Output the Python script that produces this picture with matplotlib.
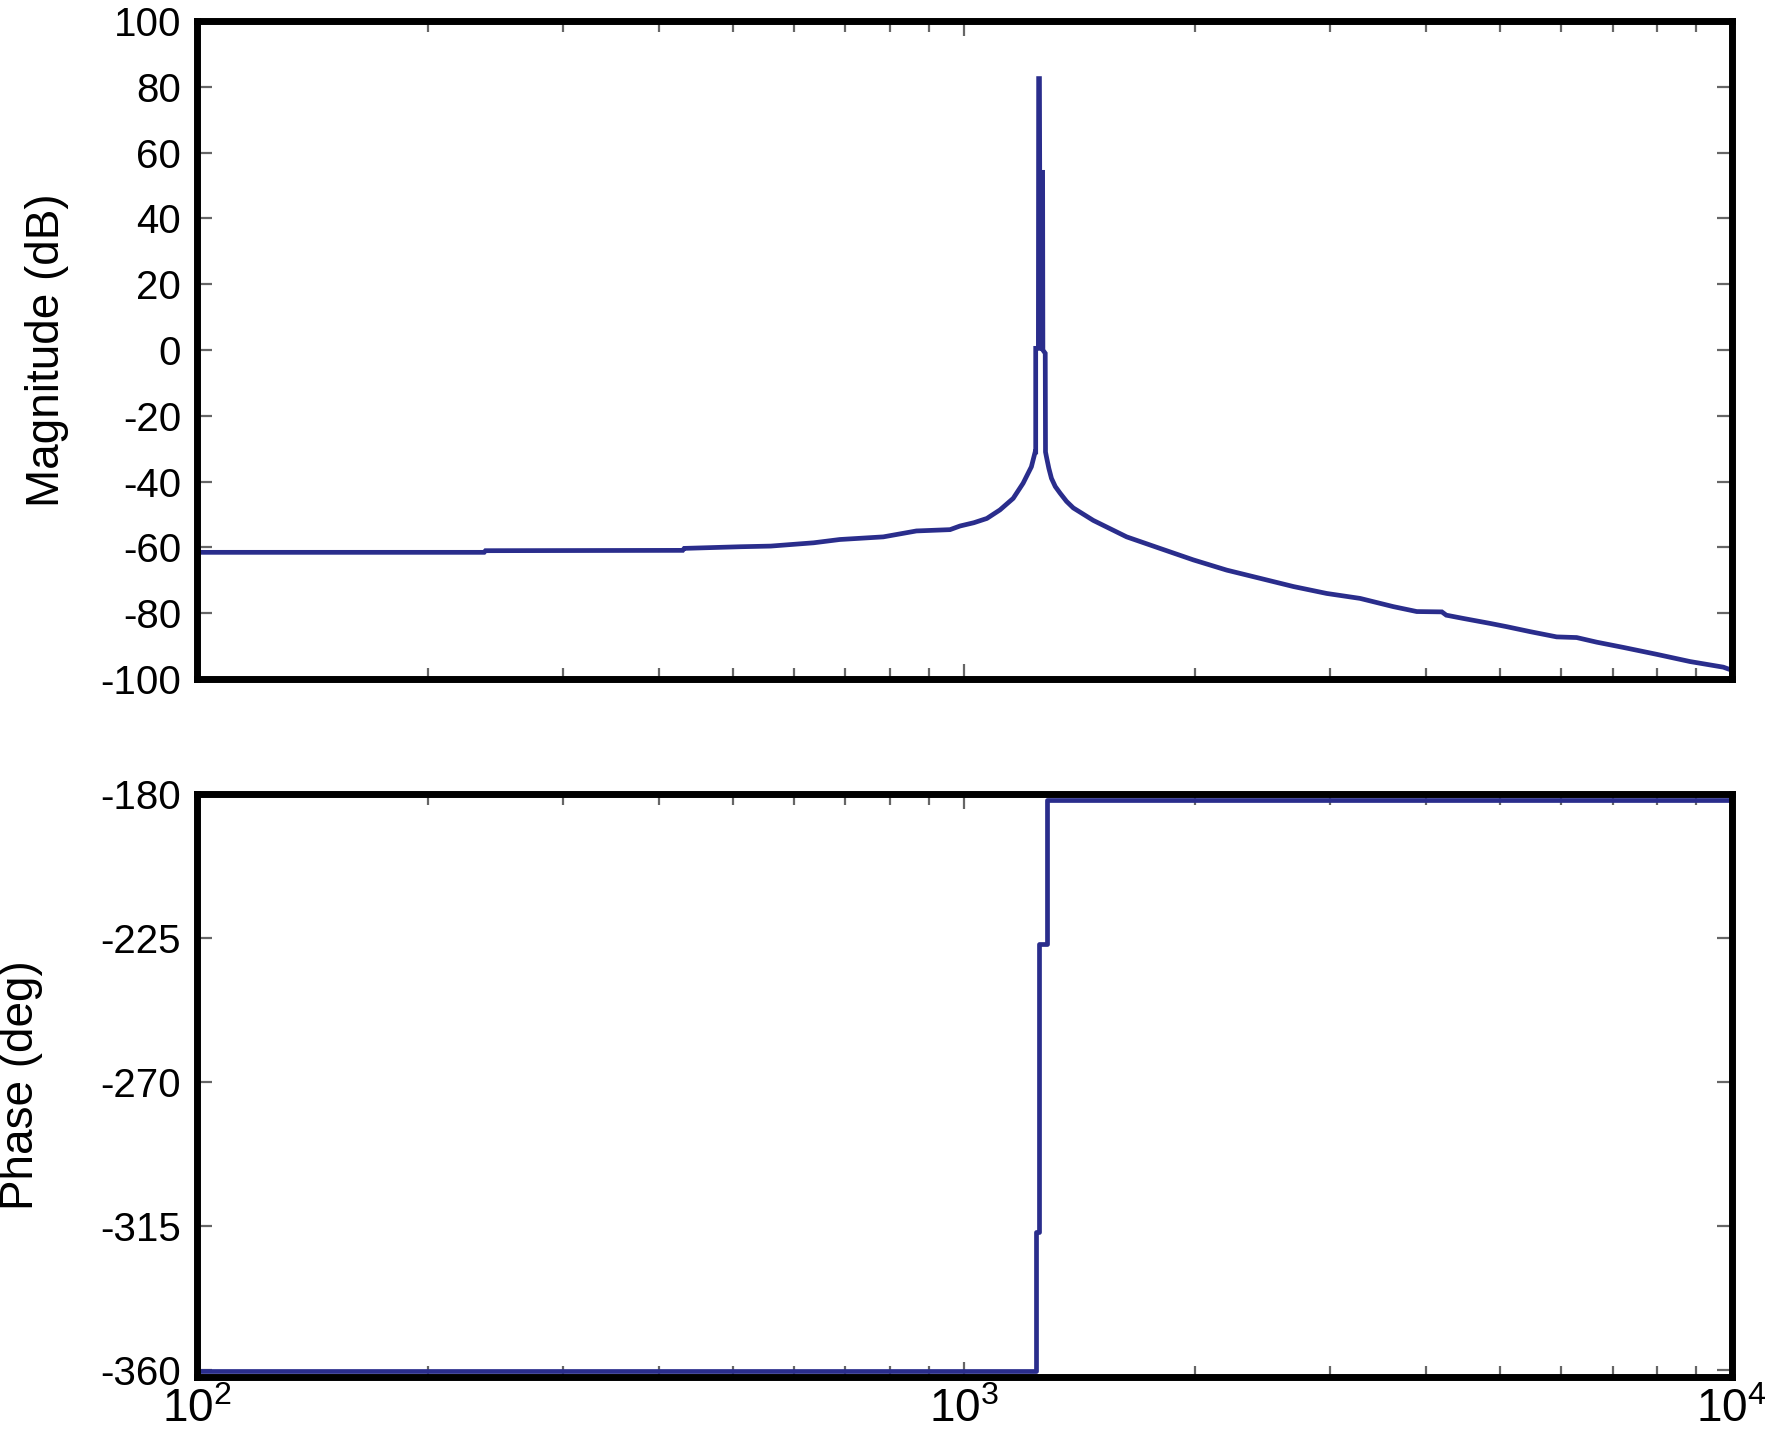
import matplotlib
matplotlib.use("Agg")
import matplotlib.pyplot as plt
from matplotlib.ticker import FixedLocator, LogLocator, NullFormatter, FixedFormatter

plt.rcParams['font.family'] = ['Liberation Sans', 'DejaVu Sans']
plt.rcParams['mathtext.default'] = 'regular'
plt.rcParams['axes.unicode_minus'] = False

# ---- data ----
mag_freq = [100, 237, 238, 430, 432, 511, 560, 637, 689, 785, 867, 959, 988, 1030,
            1071, 1114, 1159, 1194, 1224, 1238, 1240, 1240, 1250, 1251, 1254, 1255,
            1266, 1267, 1276, 1277, 1282, 1290, 1300, 1315, 1334, 1360, 1388, 1474,
            1629, 1800, 1990, 2199, 2431, 2687, 2969, 3281, 3625, 3890, 4194, 4250,
            4474, 4846, 5095, 5464, 5918, 6284, 6672, 7228, 7990, 8832, 9757, 10000]
mag_db = [-61.5, -61.5, -61.0, -60.9, -60.3, -59.8, -59.6, -58.6, -57.6, -56.8, -55.0,
          -54.6, -53.5, -52.5, -51.2, -48.6, -45.1, -40.5, -35.5, -31.0, -31.0, 0.5,
          0.5, 82.5, 82.5, 54.0, 54.0, 0.0, -1.0, -31.0, -33.0, -36.0, -39.0, -41.5,
          -43.5, -46.0, -48.0, -51.8, -56.8, -60.3, -63.8, -66.9, -69.4, -71.9, -74.0,
          -75.5, -78.0, -79.5, -79.6, -80.6, -81.6, -83.1, -84.1, -85.6, -87.2, -87.4,
          -88.8, -90.4, -92.5, -94.7, -96.4, -97.3]

phase_freq = [100, 1240, 1253, 1282, 10000]
phase_deg = [-360.3, -317, -227, -182, -182]

mag_yticks = [-100, -80, -60, -40, -20, 0, 20, 40, 60, 80, 100]
phase_yticks = [-360, -315, -270, -225, -180]
x_major = [100, 1000, 10000]
x_labels = ['$10^{2}$', '$10^{3}$', '$10^{4}$']

LINE = '#2a2d8c'

W, H = 1769, 1431
fig = plt.figure(figsize=(W / 100, H / 100), dpi=100)

l = 196.5 / W
w = (1731.5 - 196.5) / W
ax1 = fig.add_axes([l, 1 - 679 / H, w, (679 - 21) / H])
ax2 = fig.add_axes([l, 1 - 1377 / H, w, (1377 - 794) / H])

ax1.plot(mag_freq, mag_db, color=LINE, lw=3.4, solid_joinstyle='miter')
ax2.plot(phase_freq, phase_deg, color=LINE, lw=3.4, drawstyle='steps-post')

for ax in (ax1, ax2):
    ax.set_xscale('log')
    ax.set_xlim(100, 10000)
    for s in ax.spines.values():
        s.set_linewidth(5)
        s.set_color('black')
    ax.xaxis.set_major_locator(FixedLocator(x_major))
    ax.xaxis.set_minor_locator(LogLocator(base=10, subs=range(2, 10), numticks=20))
    ax.xaxis.set_minor_formatter(NullFormatter())
    ax.tick_params(which='both', direction='in', top=True, right=True, color='#666666')
    ax.tick_params(which='major', length=11, width=1.6, labelsize=29, pad=11)
    ax.tick_params(which='minor', length=8, width=1.6)

ax1.set_ylim(-100, 100)
ax1.set_yticks(mag_yticks)
ax1.set_yticklabels([str(v) for v in mag_yticks])
ax1.tick_params(axis='x', labelbottom=False)
ax1.set_ylabel('Magnitude (dB)', fontsize=33)
ax1.yaxis.set_label_coords(-0.083, 0.5)

ax2.set_ylim(-362.3, -180)
ax2.set_yticks(phase_yticks)
ax2.set_yticklabels([str(v) for v in phase_yticks])
ax2.xaxis.set_major_formatter(FixedFormatter(x_labels))
ax2.tick_params(axis='x', which='major', labelsize=33, pad=8)
ax2.set_ylabel('Phase (deg)', fontsize=33)
ax2.yaxis.set_label_coords(-0.100, 0.5)

fig.savefig('out.png', dpi=100, facecolor='white')
